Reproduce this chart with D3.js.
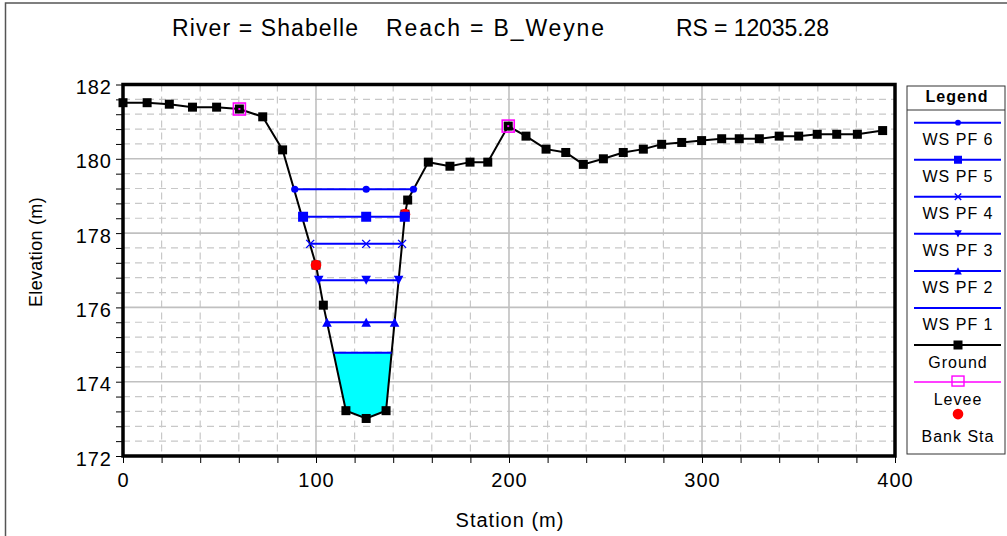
<!DOCTYPE html>
<html>
<head>
<meta charset="utf-8">
<script src="https://cdn.jsdelivr.net/npm/d3@7"></script>
<style>
  html, body { margin: 0; padding: 0; background: #fff; }
  svg { display: block; font-family: "Liberation Sans", Arial, sans-serif; }
</style>
</head>
<body>
<svg id="chart" width="1007" height="536"></svg>
<script>
// ---------------- DATA ----------------
const titleParts = ["River = Shabelle", "Reach = B_Weyne", "RS = 12035.28"];

const groundSta  = [0, 12.5, 24, 36, 48.5, 60.3, 72.4, 82.7, 100, 103.8, 115.5, 126, 136.3, 146.1, 147.5,
                    158.2, 169.4, 179.8, 189, 199.6, 208.8, 219.2, 229.4, 238.5, 248.9, 259.2, 269.6, 279.1,
                    289.5, 299.8, 310.2, 319.3, 329.7, 340, 350.1, 359.7, 369.8, 380.5, 393.6];
const groundElev = [181.51, 181.51, 181.47, 181.39, 181.39, 181.34, 181.13, 180.24, 177.14, 176.06, 173.22, 173.01, 173.22, 178.51, 178.89,
                    179.91, 179.80, 179.91, 179.91, 180.88, 180.61, 180.26, 180.17, 179.85, 180.00, 180.17, 180.26, 180.39,
                    180.44, 180.49, 180.54, 180.54, 180.54, 180.61, 180.61, 180.66, 180.66, 180.66, 180.76];

const leveeSta  = [60.3, 199.6];
const leveeElev = [181.34, 180.88];

const bankSta  = [100, 146.1];
const bankElev = [177.14, 178.51];

const wsNames = ["WS PF 1", "WS PF 2", "WS PF 3", "WS PF 4", "WS PF 5", "WS PF 6"];
const wsElev  = [174.78, 175.60, 176.73, 177.71, 178.44, 179.18];
const wsLeft  = [109.1, 105.7, 101.4, 97.0, 93.3, 89.0];
const wsRight = [139.2, 140.7, 142.8, 144.6, 146.0, 150.5];
const wsMid   = 126;
const wsMarkers = ["none", "triangle-up", "triangle-down", "x", "square", "circle"];

const xTicks = [0, 100, 200, 300, 400];
const yTicks = [172, 174, 176, 178, 180, 182];
const legendItems = ["WS PF 6", "WS PF 5", "WS PF 4", "WS PF 3", "WS PF 2", "WS PF 1", "Ground", "Levee", "Bank Sta"];

// ---------------- LAYOUT ----------------
const svg = d3.select("#chart");
const L = 123, R = 895, T = 84.5, B = 456;
const x = d3.scaleLinear().domain([0, 400]).range([L, R]);
const y = d3.scaleLinear().domain([172, 182]).range([B, T]);
const BLUE = "#0000ff";

// outer border
svg.append("rect").attr("x", 5.5).attr("y", 3).attr("width", 1100).attr("height", 600)
  .attr("fill", "none").attr("stroke", "#555").attr("stroke-width", 1.5);

// title
const titleX = [172, 386, 676];
const titleW = [186, 218, 153];
titleParts.forEach((t, i) => {
  svg.append("text").attr("x", titleX[i]).attr("y", 36).attr("font-size", 23).attr("fill", "#000")
    .attr("textLength", titleW[i]).attr("lengthAdjust", "spacing").text(t);
});

// grid
const minorX = d3.range(0, 21).map(i => i * 20).filter(v => v % 100 !== 0);
const majorX = [100, 200, 300];
const minorY = d3.range(0, 26).map(i => 172 + i * 0.4).filter(v => Math.abs(v - Math.round(v)) > 1e-6 || Math.round(v) % 2 !== 0);
const majorY = [174, 176, 178, 180];
const grid = svg.append("g");
grid.selectAll(".mx").data(minorX).join("line")
  .attr("x1", d => x(d)).attr("x2", d => x(d)).attr("y1", T).attr("y2", B)
  .attr("stroke", "#c8c8c8").attr("stroke-width", 1.2).attr("stroke-dasharray", "7,5");
grid.selectAll(".my").data(minorY).join("line")
  .attr("x1", L).attr("x2", R).attr("y1", d => y(d)).attr("y2", d => y(d))
  .attr("stroke", "#c8c8c8").attr("stroke-width", 1.2).attr("stroke-dasharray", "7,5");
grid.selectAll(".Mx").data(majorX).join("line")
  .attr("x1", d => x(d)).attr("x2", d => x(d)).attr("y1", T).attr("y2", B)
  .attr("stroke", "#c0c0c0").attr("stroke-width", 1.6);
grid.selectAll(".My").data(majorY).join("line")
  .attr("x1", L).attr("x2", R).attr("y1", d => y(d)).attr("y2", d => y(d))
  .attr("stroke", "#c0c0c0").attr("stroke-width", 1.6);

// axes
const yAxis = d3.axisLeft(y)
  .tickValues(d3.range(0, 26).map(i => 172 + i * 0.4))
  .tickFormat(d => yTicks.some(t => Math.abs(t - d) < 1e-6) ? d3.format("d")(Math.round(d)) : "")
  .tickSize(7).tickSizeOuter(0);
const gy = svg.append("g").attr("transform", `translate(${L},0)`).call(yAxis);
gy.select(".domain").remove();
gy.selectAll("line").attr("stroke", "#000").attr("stroke-width", 1);
gy.selectAll("text").attr("font-size", 20).attr("font-family", "Liberation Sans, Arial, sans-serif")
  .attr("letter-spacing", 1).attr("x", -11).attr("dy", 9).attr("fill", "#000");

const xAxis = d3.axisBottom(x)
  .tickValues(d3.range(0, 21).map(i => i * 20))
  .tickFormat(d => xTicks.includes(d) ? d : "")
  .tickSize(7).tickSizeOuter(0);
const gx = svg.append("g").attr("transform", `translate(0,${B})`).call(xAxis);
gx.select(".domain").remove();
gx.selectAll("line").attr("stroke", "#000").attr("stroke-width", 1);
gx.selectAll("text").attr("font-size", 20).attr("font-family", "Liberation Sans, Arial, sans-serif")
  .attr("letter-spacing", 1).attr("y", 31).attr("dy", 0).attr("fill", "#000");

// axis titles
svg.append("text").attr("x", 510).attr("y", 527).attr("text-anchor", "middle")
  .attr("font-size", 20).attr("letter-spacing", 1).text("Station (m)");
svg.append("text").attr("transform", "translate(42,252) rotate(-90)").attr("text-anchor", "middle")
  .attr("font-size", 18).attr("letter-spacing", 0.3).text("Elevation (m)");

// ---------------- MARKS ----------------
const plot = svg.append("g");
const ground = groundSta.map((s, i) => [s, groundElev[i]]);

// PF1 water fill
const pf1 = [[wsLeft[0], wsElev[0]]]
  .concat(ground.filter(p => p[0] > wsLeft[0] && p[0] < wsRight[0]))
  .concat([[wsRight[0], wsElev[0]]]);
plot.append("path")
  .attr("d", d3.line().x(d => x(d[0])).y(d => y(d[1]))(pf1) + "Z")
  .attr("fill", "#00ffff").attr("stroke", "none");

// ground line
plot.append("path")
  .attr("d", d3.line().x(d => x(d[0])).y(d => y(d[1]))(ground))
  .attr("fill", "none").attr("stroke", "#000").attr("stroke-width", 2);
plot.selectAll(".gpt").data(ground).join("rect")
  .attr("x", d => x(d[0]) - 4.5).attr("y", d => y(d[1]) - 4.5)
  .attr("width", 9).attr("height", 9).attr("fill", "#000");

// levee markers
plot.selectAll(".lev").data(leveeSta.map((s, i) => [s, leveeElev[i]])).join("rect")
  .attr("x", d => x(d[0]) - 6).attr("y", d => y(d[1]) - 6)
  .attr("width", 12).attr("height", 12).attr("fill", "none")
  .attr("stroke", "#ff00ff").attr("stroke-width", 1.6);
plot.selectAll(".levc").data(leveeSta.map((s, i) => [s, leveeElev[i]])).join("rect")
  .attr("x", d => x(d[0]) - 1).attr("y", d => y(d[1]) - 1)
  .attr("width", 2).attr("height", 2).attr("fill", "#ff00ff");

// bank stations
plot.selectAll(".bank").data(bankSta.map((s, i) => [s, bankElev[i]])).join("circle")
  .attr("cx", d => x(d[0])).attr("cy", d => y(d[1])).attr("r", 5.3).attr("fill", "#ff0000");

// marker drawer
function drawMarker(g, type, cx, cy, s) {
  s = s || 1;
  if (type === "circle") {
    g.append("circle").attr("cx", cx).attr("cy", cy).attr("r", 3.6 * s).attr("fill", BLUE);
  } else if (type === "square") {
    g.append("rect").attr("x", cx - 5 * s).attr("y", cy - 5 * s).attr("width", 10 * s).attr("height", 10 * s).attr("fill", BLUE);
  } else if (type === "x") {
    const h = 4 * s;
    g.append("path").attr("d", `M${cx - h},${cy - h}L${cx + h},${cy + h}M${cx - h},${cy + h}L${cx + h},${cy - h}`)
      .attr("stroke", BLUE).attr("stroke-width", 1.4).attr("fill", "none");
  } else if (type === "triangle-down") {
    const w = 4.8 * s, h = 4.5 * s;
    g.append("path").attr("d", `M${cx - w},${cy - h}L${cx + w},${cy - h}L${cx},${cy + h}Z`).attr("fill", BLUE);
  } else if (type === "triangle-up") {
    const w = 4.8 * s, h = 4.5 * s;
    g.append("path").attr("d", `M${cx - w},${cy + h}L${cx + w},${cy + h}L${cx},${cy - h}Z`).attr("fill", BLUE);
  }
}

// water surfaces
wsElev.forEach((e, i) => {
  const g = plot.append("g");
  g.append("line").attr("x1", x(wsLeft[i])).attr("x2", x(wsRight[i]))
    .attr("y1", y(e)).attr("y2", y(e)).attr("stroke", BLUE).attr("stroke-width", 2);
  if (wsMarkers[i] !== "none") {
    [wsLeft[i], wsMid, wsRight[i]].forEach(s => drawMarker(g, wsMarkers[i], x(s), y(e)));
  }
});

// frame
svg.append("rect").attr("x", L).attr("y", T).attr("width", R - L).attr("height", B - T)
  .attr("fill", "none").attr("stroke", "#000").attr("stroke-width", 3.5);

// ---------------- LEGEND ----------------
const lg = svg.append("g");
const LX = 907, LY = 86, LW = 98, LH = 368;
lg.append("rect").attr("x", LX).attr("y", LY).attr("width", LW).attr("height", LH)
  .attr("fill", "#fff").attr("stroke", "#333").attr("stroke-width", 1);
lg.append("line").attr("x1", LX).attr("x2", LX + LW).attr("y1", 110).attr("y2", 110)
  .attr("stroke", "#333").attr("stroke-width", 1);
lg.append("text").attr("x", 957).attr("y", 102).attr("text-anchor", "middle")
  .attr("font-size", 16).attr("font-weight", "bold").attr("letter-spacing", 1).text("Legend");

const legMarkers = ["circle", "square", "x", "triangle-down", "triangle-up", "none"];
legendItems.forEach((name, i) => {
  const ly = 122.7 + i * 37.05;
  const cx = 958;
  if (i < 6) {
    lg.append("line").attr("x1", 914).attr("x2", 1001).attr("y1", ly).attr("y2", ly)
      .attr("stroke", BLUE).attr("stroke-width", 2);
    if (legMarkers[i] !== "none") drawMarker(lg, legMarkers[i], cx, ly, 0.8);
  } else if (name === "Ground") {
    lg.append("line").attr("x1", 914).attr("x2", 1001).attr("y1", ly).attr("y2", ly)
      .attr("stroke", "#000").attr("stroke-width", 2);
    lg.append("rect").attr("x", cx - 4.5).attr("y", ly - 4.5).attr("width", 9).attr("height", 9).attr("fill", "#000");
  } else if (name === "Levee") {
    lg.append("line").attr("x1", 914).attr("x2", 1001).attr("y1", ly).attr("y2", ly)
      .attr("stroke", "#ff00ff").attr("stroke-width", 1.6);
    lg.append("rect").attr("x", cx - 6).attr("y", ly - 6).attr("width", 12).attr("height", 10)
      .attr("fill", "none").attr("stroke", "#ff00ff").attr("stroke-width", 1.4);
  } else {
    lg.append("circle").attr("cx", cx).attr("cy", ly - 5).attr("r", 5.3).attr("fill", "#ff0000");
  }
  lg.append("text").attr("x", cx).attr("y", ly + 22.5).attr("text-anchor", "middle")
    .attr("font-size", 16).attr("letter-spacing", 1).text(name);
});
</script>
</body>
</html>
